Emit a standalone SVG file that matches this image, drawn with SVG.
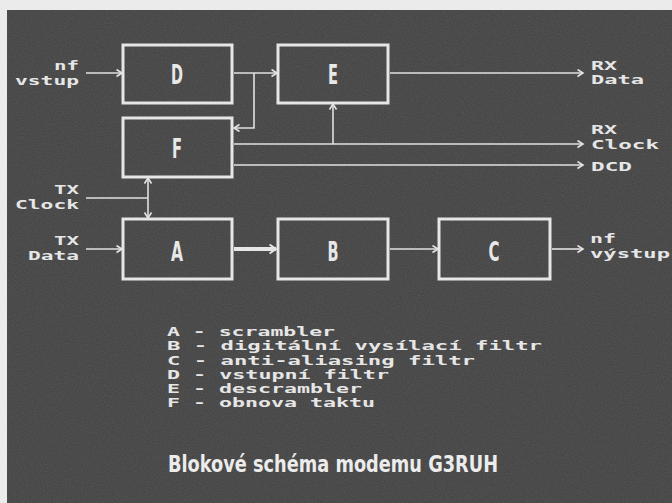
<svg xmlns="http://www.w3.org/2000/svg" width="672" height="503" viewBox="0 0 672 503">
<defs>
<filter id="noise" x="0" y="0" width="100%" height="100%">
<feTurbulence type="fractalNoise" baseFrequency="0.9" numOctaves="2" seed="3" result="t"/>
<feColorMatrix type="matrix" values="0 0 0 0 0.27  0 0 0 0 0.27  0 0 0 0 0.27  0 0 0 0.5 -0.1"/>
</filter>
<marker id="arr" markerUnits="userSpaceOnUse" markerWidth="10" markerHeight="10" refX="6" refY="4" orient="auto-start-reverse">
<path d="M0.5,0.5 L6,4 L0.5,7.5" fill="none" stroke="#e4e4e4" stroke-width="1.6"/>
</marker>
<marker id="arrb" markerUnits="userSpaceOnUse" markerWidth="12" markerHeight="12" refX="7" refY="5" orient="auto">
<path d="M0.5,0.5 L7,5 L0.5,9.5" fill="none" stroke="#e4e4e4" stroke-width="2"/>
</marker>
</defs>
<style>
.box{fill:none;stroke:#e6e6e6;stroke-width:3}
.lbl{font-family:"DejaVu Sans Condensed","Liberation Sans Narrow","DejaVu Sans",sans-serif;font-size:26px;font-weight:bold;fill:#e8e8e8;text-anchor:middle}
.mono{font-family:"DejaVu Sans Mono","Liberation Mono",monospace;font-weight:bold;font-size:12px;fill:#e6e6e6}
.ln{fill:none;stroke:#e0e0e0;stroke-width:1.6}
.title{font-family:"DejaVu Sans Condensed","Liberation Sans Narrow","DejaVu Sans",sans-serif;font-size:23px;font-weight:bold;fill:#ececec}
</style>
<rect width="672" height="503" fill="#ebebeb"/>
<rect x="7" y="10" width="665" height="493" fill="#454545"/>
<rect x="7" y="10" width="665" height="493" filter="url(#noise)" opacity="0.6"/>

<g id="connectors">
<line class="ln" x1="86" y1="73" x2="122" y2="73" marker-end="url(#arr)"/>
<line class="ln" x1="234" y1="73" x2="277" y2="73" marker-end="url(#arr)"/>
<polyline class="ln" points="254,73 254,128 234,128" marker-end="url(#arr)"/>
<line class="ln" x1="390" y1="73" x2="583" y2="73" marker-end="url(#arr)"/>
<line class="ln" x1="234" y1="144" x2="583" y2="144" marker-end="url(#arr)"/>
<line class="ln" x1="333" y1="144" x2="333" y2="104" marker-end="url(#arr)"/>
<line class="ln" x1="234" y1="165" x2="583" y2="165" marker-end="url(#arr)"/>
<line class="ln" x1="86" y1="198" x2="148" y2="198"/>
<line class="ln" x1="148" y1="178" x2="148" y2="218" marker-start="url(#arr)" marker-end="url(#arr)"/>
<line class="ln" x1="86" y1="249" x2="122" y2="249" marker-end="url(#arr)"/>
<line x1="234" y1="249" x2="276" y2="249" stroke="#e6e6e6" stroke-width="4" marker-end="url(#arrb)"/>
<line class="ln" x1="390" y1="249" x2="438" y2="249" marker-end="url(#arr)"/>
<line class="ln" x1="552" y1="249" x2="583" y2="249" marker-end="url(#arr)"/>
</g>

<g id="node-D"><rect class="box" x="123" y="45" width="109" height="58"/><text class="lbl" x="177" y="84" textLength="12" lengthAdjust="spacingAndGlyphs">D</text></g>
<g id="node-E"><rect class="box" x="278" y="45" width="110" height="58"/><text class="lbl" x="333" y="84" textLength="10" lengthAdjust="spacingAndGlyphs">E</text></g>
<g id="node-F"><rect class="box" x="123" y="118" width="109" height="59"/><text class="lbl" x="177" y="158" textLength="10" lengthAdjust="spacingAndGlyphs">F</text></g>
<g id="node-A"><rect class="box" x="123" y="219" width="109" height="60"/><text class="lbl" x="177" y="261" textLength="12" lengthAdjust="spacingAndGlyphs">A</text></g>
<g id="node-B"><rect class="box" x="278" y="219" width="110" height="60"/><text class="lbl" x="333" y="261" textLength="11" lengthAdjust="spacingAndGlyphs">B</text></g>
<g id="node-C"><rect class="box" x="439" y="219" width="111" height="60"/><text class="lbl" x="494" y="261" textLength="11" lengthAdjust="spacingAndGlyphs">C</text></g>

<g id="labels">
<text class="mono" x="54" y="70" textLength="25" lengthAdjust="spacingAndGlyphs">nf</text>
<text class="mono" x="15" y="85" textLength="64" lengthAdjust="spacingAndGlyphs">vstup</text>
<text class="mono" x="54" y="194" textLength="25" lengthAdjust="spacingAndGlyphs">TX</text>
<text class="mono" x="15" y="209" textLength="64" lengthAdjust="spacingAndGlyphs">Clock</text>
<text class="mono" x="54" y="245" textLength="25" lengthAdjust="spacingAndGlyphs">TX</text>
<text class="mono" x="28" y="260" textLength="51" lengthAdjust="spacingAndGlyphs">Data</text>
<text class="mono" x="591" y="70" textLength="26" lengthAdjust="spacingAndGlyphs">RX</text>
<text class="mono" x="591" y="84" textLength="53" lengthAdjust="spacingAndGlyphs">Data</text>
<text class="mono" x="591" y="134" textLength="26" lengthAdjust="spacingAndGlyphs">RX</text>
<text class="mono" x="591" y="149" textLength="68" lengthAdjust="spacingAndGlyphs">Clock</text>
<text class="mono" x="591" y="171" textLength="41" lengthAdjust="spacingAndGlyphs">DCD</text>
<text class="mono" x="590" y="243" textLength="26" lengthAdjust="spacingAndGlyphs">nf</text>
<text class="mono" x="590" y="258" textLength="80" lengthAdjust="spacingAndGlyphs">výstup</text>
</g>

<g id="legend">
<text class="mono" x="167" y="336" textLength="168" lengthAdjust="spacingAndGlyphs">A - scrambler</text>
<text class="mono" x="167" y="350" textLength="375" lengthAdjust="spacingAndGlyphs">B - digitální vysílací filtr</text>
<text class="mono" x="167" y="365" textLength="308" lengthAdjust="spacingAndGlyphs">C - anti-aliasing filtr</text>
<text class="mono" x="167" y="379" textLength="222" lengthAdjust="spacingAndGlyphs">D - vstupní filtr</text>
<text class="mono" x="167" y="393" textLength="195" lengthAdjust="spacingAndGlyphs">E - descrambler</text>
<text class="mono" x="167" y="407" textLength="208" lengthAdjust="spacingAndGlyphs">F - obnova taktu</text>
</g>

<text class="title" x="168" y="472" textLength="330" lengthAdjust="spacingAndGlyphs">Blokové schéma modemu G3RUH</text>
</svg>
